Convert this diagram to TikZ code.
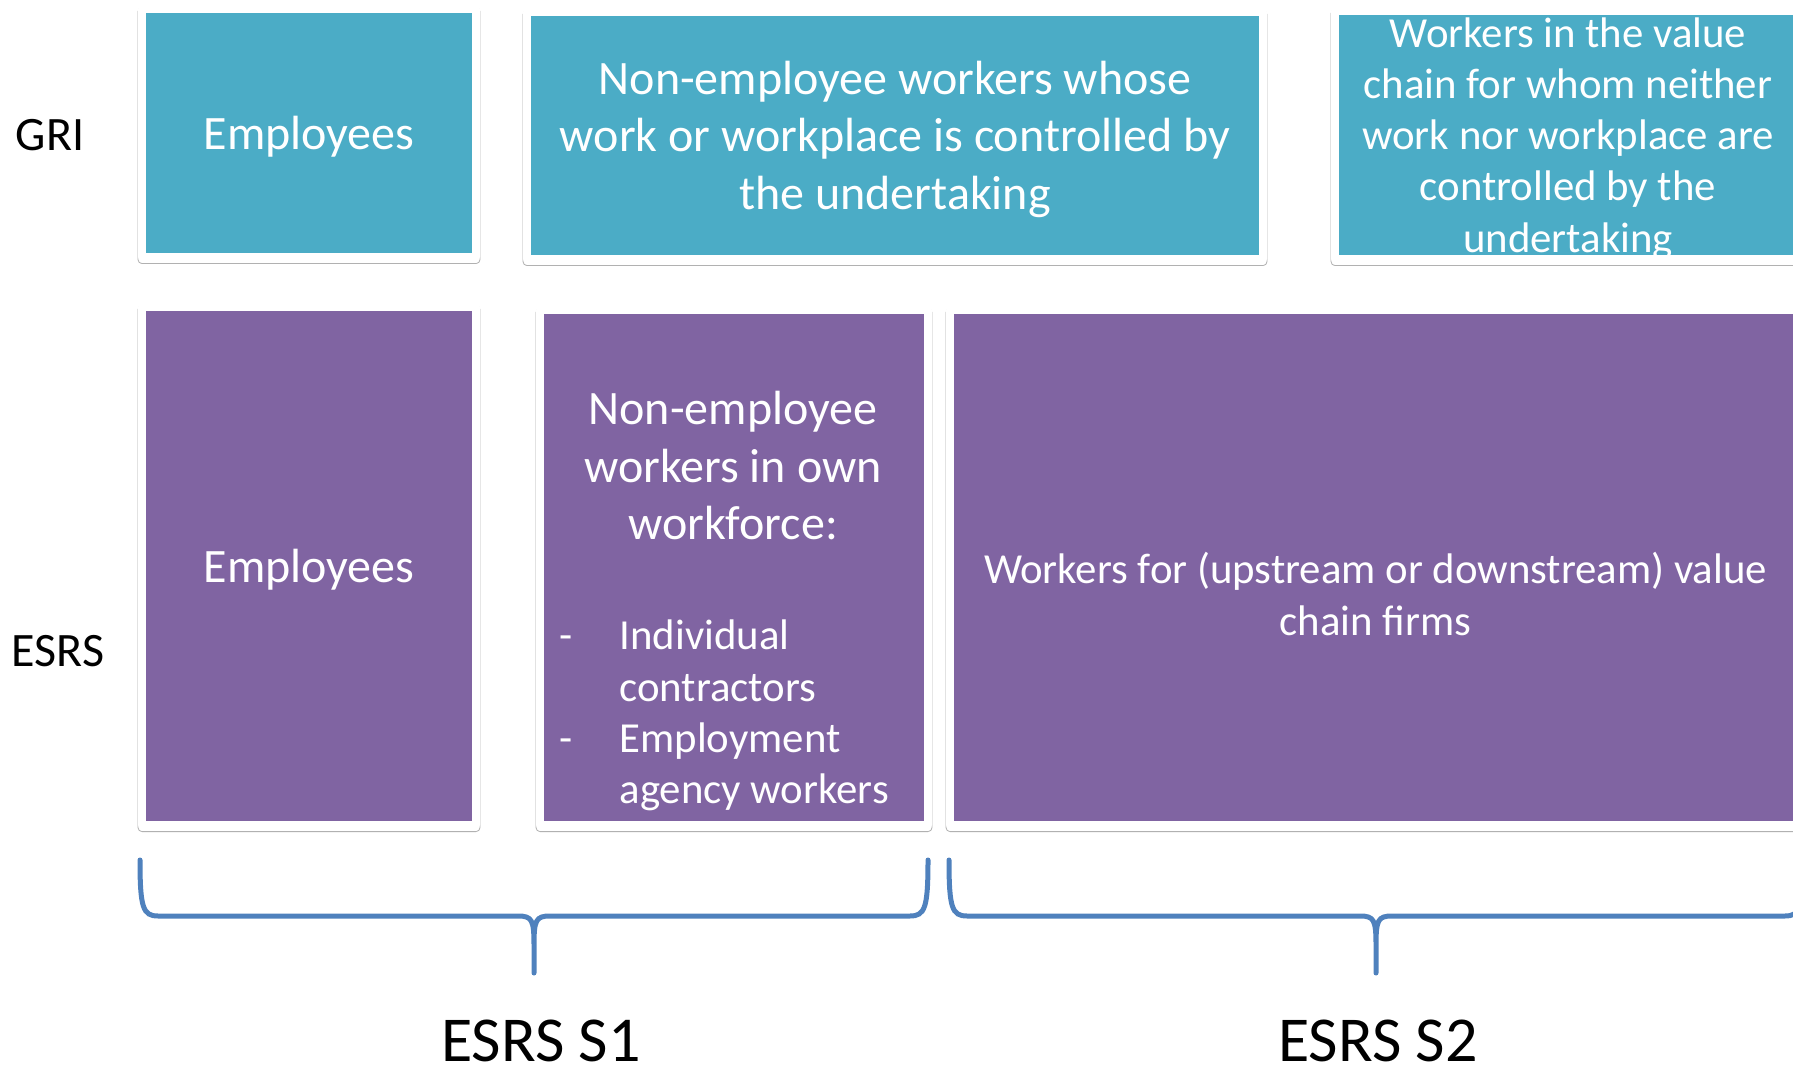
\documentclass[tikz,border=0pt]{standalone}
\usepackage{fontspec}
\setmainfont{Carlito}
\usetikzlibrary{shadows,positioning}

\definecolor{griTeal}{HTML}{4BACC6}
\definecolor{esrsPurple}{HTML}{8064A2}
\definecolor{braceBlue}{HTML}{4F81BD}

\tikzset{
  softshadow/.style={preaction={draw=black, opacity=#1, transform canvas={yshift=-1.3pt}}},
  card/.style={fill=white, rounded corners=2pt, inner sep=0pt, text=white,
    softshadow=.07, preaction={line width=4.4pt},
    softshadow=.11, preaction={line width=2.8pt},
    softshadow=.16, preaction={line width=1.4pt},
    path picture={\fill[#1, sharp corners] ([shift={(4pt,4pt)}]path picture bounding box.south west) rectangle ([shift={(-4pt,-4pt)}]path picture bounding box.north east);}},
  bigtext/.style={font=\fontsize{24}{28.75}\selectfont, align=center},
  smalltext/.style={font=\fontsize{21.4}{25.6}\selectfont, align=center},
  rowlabel/.style={font=\fontsize{24}{28}\selectfont},
  bracelabel/.style={font=\fontsize{32}{36}\selectfont, inner sep=0pt},
}

\begin{document}
\begin{tikzpicture}[x=0.5pt,y=-0.5pt]
\useasboundingbox (0,0) rectangle (1793,1069);
\clip (0,0) rectangle (1793,1069);

%% row labels
\node[rowlabel] (gri) at (50,135) {GRI};
\node[rowlabel] (esrs) at (58,651) {ESRS};

%% GRI row
\node[card=griTeal, minimum width=171pt, minimum height=128pt] (griEmp) at (309,133) {};
\node[bigtext, text=white, text depth=0pt] (griEmpText) at (griEmp) {Employees};
\node[card=griTeal, minimum width=372pt, minimum height=127.5pt] (griNon) at (895,135.5) {};
\node[bigtext, text=white] (griNonText) at (895,139) {Non-employee workers whose\\work or workplace is controlled by\\the undertaking};
\node[card=griTeal, minimum width=237pt, minimum height=128pt] (griVal) at (1568,135) {};
\begin{scope}
\clip ([shift={(4pt,4pt)}]griVal.south west) rectangle ([shift={(-4pt,-4pt)}]griVal.north east);
\node[smalltext, text=white] (griValText) at (1568,138.5) {Workers in the value\\chain for whom neither\\work nor workplace are\\controlled by the\\undertaking};
\end{scope}

%% ESRS row
\node[card=esrsPurple, minimum width=171pt, minimum height=263pt] (esrsEmp) at (309,566) {};
\node[bigtext, text=white, text depth=0pt] (esrsEmpText) at (esrsEmp) {Employees};
\node[card=esrsPurple, minimum width=198pt, minimum height=261.5pt] (esrsNon) at (734,567.5) {};
\node[bigtext, text=white] (esrsNonHead) at (733,466) {Non-employee\\workers in own\\workforce:};
\node[smalltext, align=left, anchor=west, text=white, inner sep=0pt] (esrsNonList) at (559.5,715.5) {\makebox[29.8pt][l]{-}Individual\\\hspace*{29.8pt}contractors\\\makebox[29.8pt][l]{-}Employment\\\hspace*{29.8pt}agency workers};
\node[card=esrsPurple, minimum width=429.5pt, minimum height=261.5pt] (esrsVal) at (1375.5,567.5) {};
\node[smalltext, text=white] (esrsValText) at (1375.5,594) {Workers for (upstream or downstream) value\\chain firms};

%% braces and their standards
\foreach \bl/\bt/\br/\lx/\lbl [count=\i] in {140/534/928/541/{ESRS S1}, 949/1376/1803/1378/{ESRS S2}}
{
  \draw[braceBlue, line width=2.5pt, line cap=round]
    (\bl,860) .. controls (\bl,908) and (\bl+3,916) .. (\bl+18,916) -- (\bt-16,916)
      .. controls (\bt-2,916) and (\bt,920) .. (\bt,945) -- (\bt,973)
    (\br,860) .. controls (\br,908) and (\br-3,916) .. (\br-18,916) -- (\bt+16,916)
      .. controls (\bt+2,916) and (\bt,920) .. (\bt,945);
  \node[bracelabel] (std\i) at (\lx,1041) {\lbl};
}
\end{tikzpicture}
\end{document}
